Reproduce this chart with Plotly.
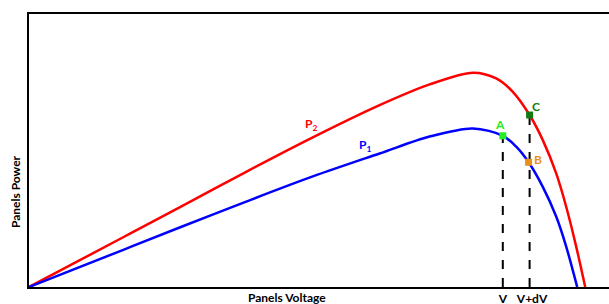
import plotly.graph_objects as go

# Panel voltage (arbitrary units) and power curves
p2_voltage = [0, 4.78, 7.53, 10.86, 14.19, 17.53, 20.03, 22.19, 23.36, 24.19, 25.03, 25.69, 26.36, 26.86, 27.36, 27.81]
p2_power   = [0, 18.5, 29.2, 42.2, 54.8, 66.6, 74.2, 78.5, 76.4, 71.5, 63.0, 53.8, 41.6, 29.4, 14.8, 0]

p1_voltage = [0, 4.78, 7.53, 10.86, 14.19, 17.53, 20.03, 22.19, 23.69, 24.36, 24.98, 25.69, 26.36, 26.86, 27.41]
p1_power   = [0, 13.8, 21.8, 31.3, 40.5, 48.9, 55.1, 58.1, 55.4, 51.4, 45.7, 36.7, 25.8, 14.8, 0]

point_names = ["A", "B", "C"]
point_v = [23.69, 24.98, 25.03]
point_p = [55.4, 45.7, 63.0]
point_colors = ["#22ee22", "#e8901e", "#127a12"]

tick_vals = [23.69, 25.15]
tick_text = ["V", "V+dV"]

FONT = "Lato"
L, R, T, B = 29, 0, 14, 17
W, H = 609, 304
PW, PH = W - L - R, H - T - B

fig = go.Figure()

# dashed drop lines
fig.add_trace(go.Scatter(x=[point_v[0], point_v[0]], y=[0, point_p[0]], mode="lines",
                         line=dict(color="black", width=2, dash="dash"), hoverinfo="skip"))
fig.add_trace(go.Scatter(x=[point_v[2], point_v[2]], y=[0, point_p[2]], mode="lines",
                         line=dict(color="black", width=2, dash="dash"), hoverinfo="skip"))

fig.add_trace(go.Scatter(x=p2_voltage, y=p2_power, mode="lines",
                         line=dict(color="#ff0000", width=2.5, shape="spline", smoothing=0.9)))
fig.add_trace(go.Scatter(x=p1_voltage, y=p1_power, mode="lines",
                         line=dict(color="#0000ff", width=2.5, shape="spline", smoothing=0.9)))

fig.add_trace(go.Scatter(x=point_v, y=point_p, mode="markers",
                         marker=dict(symbol="square", size=7, color=point_colors,
                                     line=dict(width=0))))

# point labels
label_offsets = [(-3, 11), (9, 3), (6, 9)]
for name, v, p, c, (dx, dy) in zip(point_names, point_v, point_p, point_colors, label_offsets):
    fig.add_annotation(x=v, y=p, text="<b>" + name + "</b>", showarrow=False,
                       xshift=dx, yshift=dy, font=dict(family=FONT, size=12, color=c))

fig.add_annotation(x=14.1, y=59.5, text="<b>P<sub>2</sub></b>", showarrow=False,
                   font=dict(family=FONT, size=12, color="#ff0000"))
fig.add_annotation(x=16.8, y=52.0, text="<b>P<sub>1</sub></b>", showarrow=False,
                   font=dict(family=FONT, size=12, color="#0000ff"))

# axis titles (positions converted from pixels to paper coordinates)
fig.add_annotation(x=(287 - L) / PW, y=-(297 - (H - B)) / PH, xref="paper", yref="paper",
                   text="<b>Panels Voltage</b>", showarrow=False,
                   xanchor="center", yanchor="middle",
                   font=dict(family=FONT, size=12, color="black"))
fig.add_annotation(x=-(L - 15) / PW, y=((H - B) - 192) / PH, xref="paper", yref="paper",
                   text="<b>Panels Power</b>", textangle=-90, showarrow=False,
                   xanchor="center", yanchor="middle",
                   font=dict(family=FONT, size=12, color="black"))

fig.update_layout(
    width=W, height=H,
    margin=dict(l=L, r=R, t=T, b=B, autoexpand=False),
    paper_bgcolor="white", plot_bgcolor="white",
    showlegend=False,
    xaxis=dict(range=[0, 29], showgrid=False, zeroline=False, showline=True, linecolor="black",
               linewidth=2, mirror=True, tickvals=tick_vals, ticktext=tick_text, ticks="",
               ticklabelstandoff=0,
               tickfont=dict(family=FONT, size=12, color="black", weight="bold")),
    yaxis=dict(range=[0, 100], showgrid=False, zeroline=False, showline=True, linecolor="black",
               linewidth=2, showticklabels=False, ticks=""),
)

fig.write_html("out.html", config={"displayModeBar": False},
               post_script="document.body.style.margin='0px';")
